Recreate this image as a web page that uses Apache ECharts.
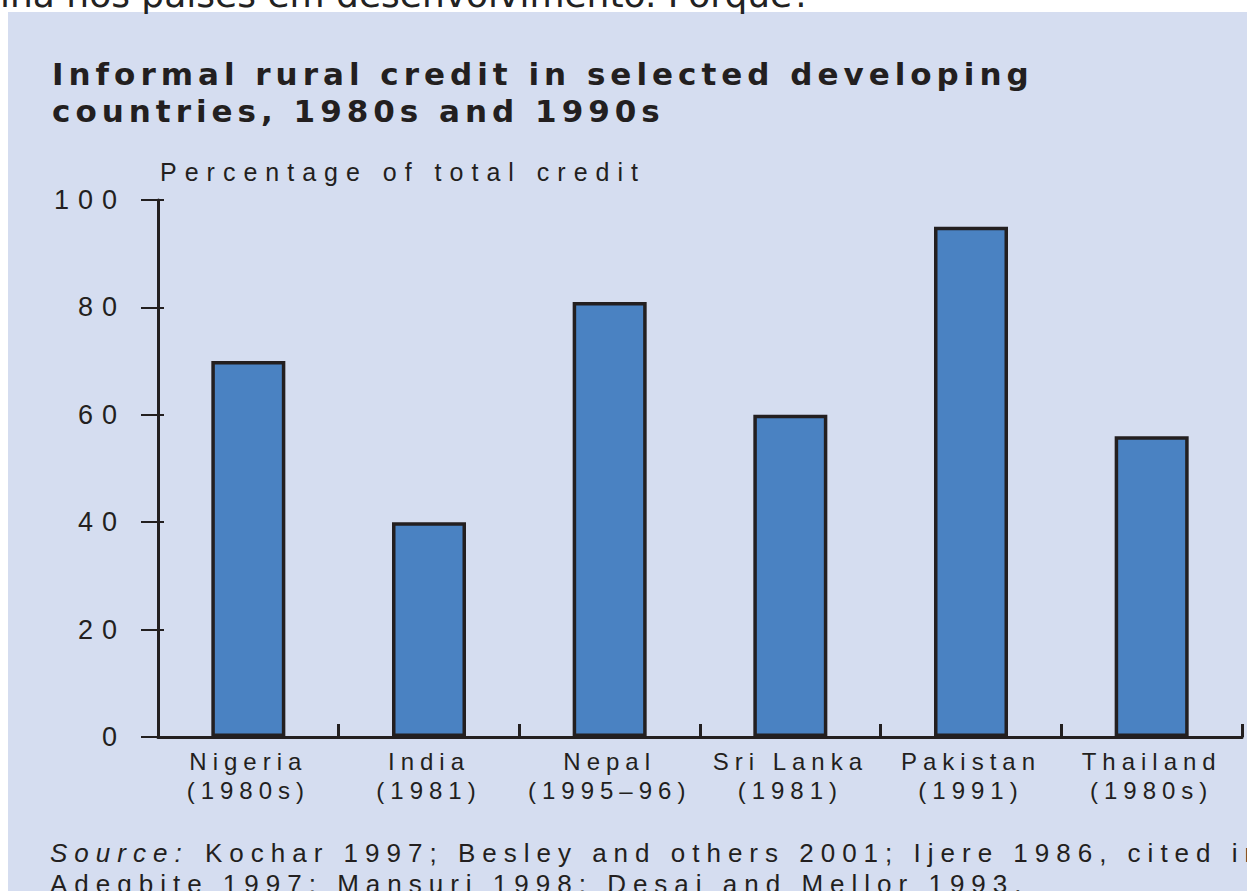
<!DOCTYPE html>
<html>
<head>
<meta charset="utf-8">
<script src="https://cdn.jsdelivr.net/npm/echarts@6/dist/echarts.min.js"></script>
<style>
  html, body { margin: 0; padding: 0; background: #ffffff; }
  #chart { width: 1247px; height: 891px; }
  #chart text[style*="31px"] { letter-spacing: 5px; }
  #chart text[style*="25px"] { letter-spacing: 8px; }
  #chart text[style*="27px"] { letter-spacing: 9px; }
  #chart text[style*="24px"] { letter-spacing: 6px; }
  #chart text[style*="26px"] { letter-spacing: 7px; }
</style>
</head>
<body>
<div id="chart"></div>
<script>
const categories = ['Nigeria\n(1980s)', 'India\n(1981)', 'Nepal\n(1995–96)', 'Sri Lanka\n(1981)', 'Pakistan\n(1991)', 'Thailand\n(1980s)'];
const informalShare = [70, 40, 81, 60, 95, 56];
const titleLines = ['Informal rural credit in selected developing', 'countries, 1980s and 1990s'];
const yAxisName = 'Percentage of total credit';
const sourceLabel = 'Source:';
const sourceLines = ['Kochar 1997; Besley and others 2001; Ijere 1986, cited in', 'Adegbite 1997; Mansuri 1998; Desai and Mellor 1993.'];
const topText = 'ina nos países em desenvolvimento. Porquê?';

const ink = '#231f20';
const chart = echarts.init(document.getElementById('chart'), null, { renderer: 'svg' });

chart.setOption({
  animation: false,
  backgroundColor: '#ffffff',
  grid: { left: 158, right: 5, top: 200, bottom: 154, containLabel: false },
  graphic: [
    { type: 'rect', z: -10, silent: true, shape: { x: 8, y: 12, width: 1300, height: 900 }, style: { fill: '#d5ddf0' } },
    { type: 'text', z: 10, style: { x: 0, y: -6, text: topText, font: '36px "DejaVu Sans"', fill: '#222222', textVerticalAlign: 'middle' } },
    { type: 'text', z: 10, style: { x: 52, y: 74, text: titleLines[0], font: 'bold 31px "DejaVu Sans"', fill: ink, textVerticalAlign: 'middle' } },
    { type: 'text', z: 10, style: { x: 52, y: 111, text: titleLines[1], font: 'bold 31px "DejaVu Sans"', fill: ink, textVerticalAlign: 'middle' } },
    { type: 'text', z: 10, style: { x: 160, y: 172, text: yAxisName, font: '25px "Liberation Sans"', fill: ink, textVerticalAlign: 'middle' } },
    { type: 'text', z: 10, style: { x: 50, y: 853, text: sourceLabel, font: 'italic 26px "Liberation Sans"', fill: ink, textVerticalAlign: 'middle' } },
    { type: 'text', z: 10, style: { x: 205, y: 853, text: sourceLines[0], font: '26px "Liberation Sans"', fill: ink, textVerticalAlign: 'middle' } },
    { type: 'text', z: 10, style: { x: 50, y: 884, text: sourceLines[1], font: '26px "Liberation Sans"', fill: ink, textVerticalAlign: 'middle' } }
  ],
  xAxis: {
    type: 'category',
    data: categories,
    boundaryGap: true,
    axisLine: { show: true, lineStyle: { color: ink, width: 3 } },
    axisTick: { show: true, inside: true, length: 13, alignWithLabel: false, lineStyle: { color: ink, width: 3 } },
    axisLabel: { interval: 0, margin: 10, color: ink, fontFamily: 'Liberation Sans', fontSize: 24, lineHeight: 29 },
    splitLine: { show: false }
  },
  yAxis: [
    {
      type: 'value', min: 0, max: 100, interval: 20, position: 'left',
      axisLine: { show: true, lineStyle: { color: ink, width: 3 } },
      axisTick: { show: true, inside: false, length: 17, lineStyle: { color: ink, width: 2 } },
      axisLabel: { margin: 32, color: ink, fontFamily: 'Liberation Sans', fontSize: 27 },
      splitLine: { show: false }
    },
    {
      type: 'value', min: 0, max: 100, interval: 20, position: 'left', offset: 0,
      axisLine: { show: false },
      axisTick: { show: true, inside: true, length: 6, lineStyle: { color: ink, width: 2 } },
      axisLabel: { show: false },
      splitLine: { show: false }
    }
  ],
  series: [{
    type: 'bar',
    yAxisIndex: 0,
    data: informalShare,
    barWidth: 74,
    itemStyle: { color: '#4a82c2', borderColor: ink, borderWidth: 3.5 }
  }]
});
</script>
</body>
</html>
